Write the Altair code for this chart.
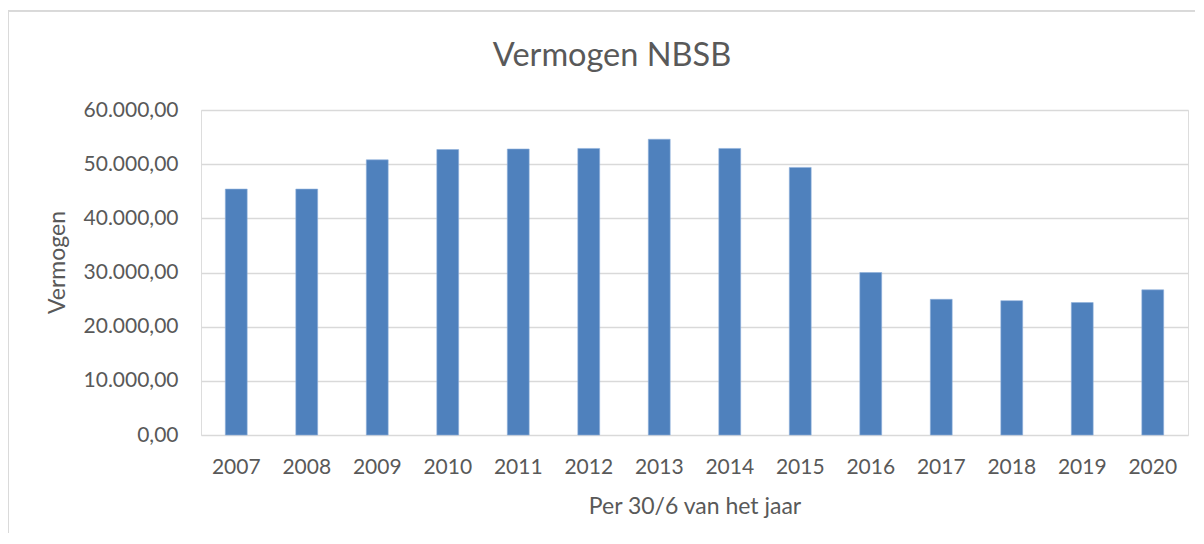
import altair as alt
import pandas as pd

years = ["2007", "2008", "2009", "2010", "2011", "2012", "2013",
         "2014", "2015", "2016", "2017", "2018", "2019", "2020"]
vermogen = [45400, 45400, 50800, 52700, 52800, 52900, 54600,
            52900, 49400, 30000, 25050, 24800, 24450, 26800]
chart_title = "Vermogen NBSB"

df = pd.DataFrame({"jaar": years, "vermogen": vermogen})

FONT = "Lato"
TXT = "#595959"
GRID = "#d9d9d9"

bars = alt.Chart(df).mark_bar(color="#4f81bd", stroke="#8eb0dc", strokeWidth=0.6).encode(
    x=alt.X("jaar:N", sort=years,
            scale=alt.Scale(paddingInner=0.69, paddingOuter=0.345),
            axis=alt.Axis(title="Per 30/6 van het jaar", labelAngle=0, ticks=False,
                          domain=False, labelFontSize=21, labelFont=FONT,
                          labelColor=TXT, labelPadding=21, titleFont=FONT,
                          titleFontSize=23, titleFontWeight="normal",
                          titleColor=TXT, titlePadding=18)),
    y=alt.Y("vermogen:Q",
            scale=alt.Scale(domain=[0, 60000]),
            axis=alt.Axis(title="Vermogen", values=[0, 10000, 20000, 30000, 40000, 50000, 60000],
                          labelExpr="replace(replace(replace(format(datum.value, ',.2f'), ',', '#'), '.', ','), '#', '.')",
                          ticks=False, domain=False, gridColor=GRID, gridWidth=1.3,
                          labelFontSize=21, labelFont=FONT, labelColor=TXT,
                          labelPadding=23, titleFont=FONT, titleFontSize=23,
                          titleFontWeight="normal", titleColor=TXT,
                          titlePadding=14, titleY=152)),
)

border = alt.Chart(df).mark_rect(fill=None, stroke="#d9d9d9", strokeWidth=1, clip=False).encode(
    x=alt.value(-193), x2=alt.value(1040), y=alt.value(-99), y2=alt.value(600)
)

title = alt.Chart(pd.DataFrame({"t": [chart_title]})).mark_text(
    font=FONT, fontSize=32.5, color=TXT, align="center", baseline="alphabetic"
).encode(text="t:N", x=alt.value(411), y=alt.value(-44))

chart = alt.layer(border, bars, title).properties(
    width=987, height=325,
    padding={"left": 193, "top": 102, "right": 7, "bottom": 98},
    autosize=alt.AutoSizeParams(type="none"),
).configure_view(stroke=None).configure(background="white")

chart.save("out.html", embed_options={"renderer": "svg", "actions": False})
